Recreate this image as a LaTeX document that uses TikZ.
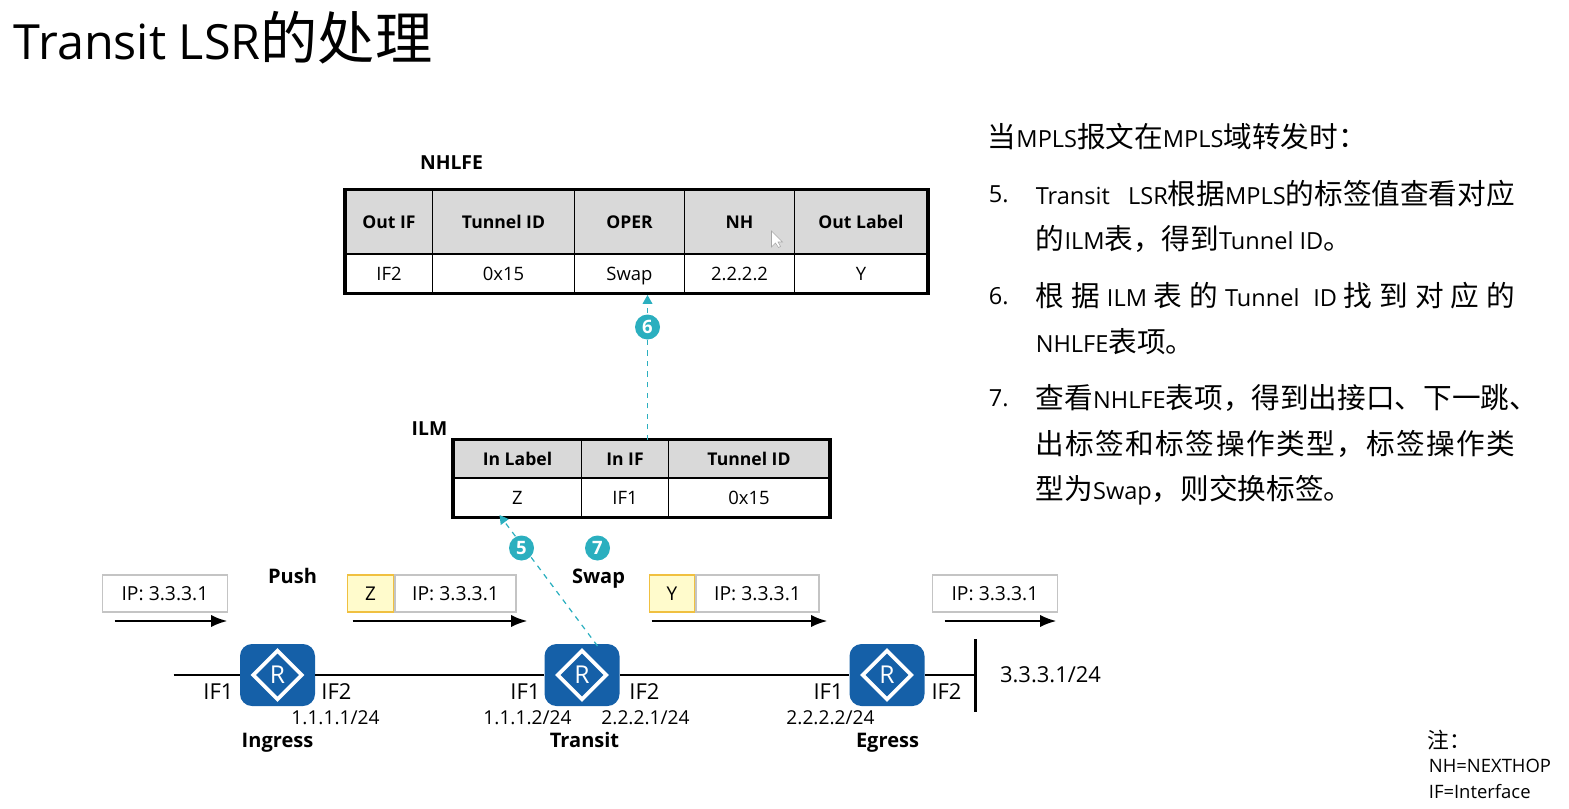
\documentclass[tikz,border=0pt]{standalone}
\usepackage{fontspec}
\setmainfont{Open Sans}
\newfontfamily\cjk[Scale=1.18]{Noto Sans CJK SC}
\newfontfamily\cjkbody[Scale=1.216]{Noto Sans CJK SC}
\newcommand{\zh}[1]{{\cjk #1}}
\newcommand{\zb}[1]{{\cjkbody #1}}
\usepackage{tikz}
\usetikzlibrary{arrows.meta,positioning,shapes.geometric}
\definecolor{headgray}{HTML}{D9D9D9}
\definecolor{boxgray}{HTML}{C4C4C4}
\definecolor{labelfill}{HTML}{FFFBCC}
\definecolor{labelline}{HTML}{F0C040}
\definecolor{routerblue}{HTML}{1560A8}
\definecolor{stepteal}{HTML}{2BAFBF}
\tikzset{
  headcell/.style={draw=black,line width=0.7pt,fill=headgray,inner sep=0pt,text height=7.2pt,text depth=0pt,font=\fontsize{10}{12}\selectfont\bfseries},
  bodycell/.style={draw=black,line width=0.7pt,inner sep=0pt,text height=7.6pt,text depth=0pt,font=\fontsize{10.5}{12}\selectfont},
  frameline/.style={line width=2pt},
  ipbox/.style={draw=boxgray,line width=0.9pt,fill=white,inner sep=0pt,minimum height=0.74cm,text height=7.8pt,text depth=0pt,font=\fontsize{11}{12}\selectfont},
  tagbox/.style={draw=labelline,line width=0.9pt,fill=labelfill,inner sep=0pt,minimum height=0.74cm,text height=7.8pt,text depth=0pt,font=\fontsize{10.8}{12}\selectfont},
  flow/.style={->,line width=1.4pt},
  link/.style={line width=1.4pt},
  router/.style={draw=none,fill=routerblue,rounded corners=0.24cm,minimum width=1.5cm,minimum height=1.24cm,inner sep=0pt},
  routermark/.style={diamond,draw=white,line width=2.1pt,text=white,minimum width=1cm,minimum height=1cm,inner sep=0pt,font=\fontsize{14}{14}\selectfont},
  small/.style={inner sep=0pt,text height=7.8pt,text depth=0pt,font=\fontsize{10.9}{12}\selectfont},
  iflabel/.style={inner sep=0pt,text height=8.9pt,text depth=0pt,font=\fontsize{12.5}{14}\selectfont},
  tag/.style={inner sep=0pt,text height=8.2pt,text depth=0pt,font=\fontsize{11.4}{13}\selectfont\bfseries},
  stepdot/.style={circle,fill=stepteal,text=white,minimum size=0.5cm,inner sep=0pt,font=\fontsize{10.5}{12}\selectfont\bfseries},
  stepflow/.style={dashed,stepteal,line width=0.7pt,-{Triangle[length=5pt,width=5.5pt]}},
  para/.style={anchor=west,inner sep=0pt,font=\fontsize{13.4}{16}\selectfont},
  note/.style={anchor=west,inner sep=0pt,font=\fontsize{10.5}{13}\selectfont}
}
\begin{document}
\begin{tikzpicture}[>=Latex]
\useasboundingbox (-0.01,0.02) rectangle (31.37,-16.14);

\node[anchor=west,inner sep=0pt,font=\fontsize{27.6}{32}\selectfont] (title) at (0.26,-0.74) {Transit LSR\zh{的处理}};

% NHLFE table
\node[tag,font=\fontsize{11}{13}\selectfont\bfseries] (nhName) at (9.02,-3.22) {NHLFE};
\node[headcell,minimum width=1.74cm,minimum height=1.28cm] (nhOutIf) at (7.77,-4.42) {Out IF};
\node[headcell,minimum width=2.84cm,minimum height=1.28cm] (nhTunnel) at (10.06,-4.42) {Tunnel ID};
\node[headcell,minimum width=2.2cm,minimum height=1.28cm] (nhOper) at (12.58,-4.42) {OPER};
\node[headcell,minimum width=2.2cm,minimum height=1.28cm] (nhHop) at (14.78,-4.42) {NH};
\node[headcell,minimum width=2.66cm,minimum height=1.28cm] (nhLabel) at (17.21,-4.42) {Out Label};
\node[bodycell,minimum width=1.74cm,minimum height=0.78cm] (nhOutIfV) at (7.77,-5.45) {IF2};
\node[bodycell,minimum width=2.84cm,minimum height=0.78cm] (nhTunnelV) at (10.06,-5.45) {0x15};
\node[bodycell,minimum width=2.2cm,minimum height=0.78cm] (nhOperV) at (12.58,-5.45) {Swap};
\node[bodycell,minimum width=2.2cm,minimum height=0.78cm] (nhHopV) at (14.78,-5.45) {2.2.2.2};
\node[bodycell,minimum width=2.66cm,minimum height=0.78cm] (nhLabelV) at (17.21,-5.45) {Y};
\draw[frameline] (nhOutIf.north west) rectangle (nhLabelV.south east);

% mouse pointer
\draw[gray!70,fill=white,line width=0.3pt] (15.42,-4.6) -- (15.42,-4.92) -- (15.5,-4.84) -- (15.56,-4.93) -- (15.6,-4.91) -- (15.55,-4.82) -- (15.64,-4.82) -- cycle;

% ILM table
\node[tag,font=\fontsize{11}{13}\selectfont\bfseries] (ilmName) at (8.58,-8.54) {ILM};
\node[headcell,minimum width=2.56cm,minimum height=0.76cm] (ilmLabel) at (10.34,-9.16) {In Label};
\node[headcell,minimum width=1.74cm,minimum height=0.76cm] (ilmIf) at (12.49,-9.16) {In IF};
\node[headcell,minimum width=3.22cm,minimum height=0.76cm] (ilmTunnel) at (14.97,-9.16) {Tunnel ID};
\node[bodycell,minimum width=2.56cm,minimum height=0.78cm] (ilmLabelV) at (10.34,-9.93) {Z};
\node[bodycell,minimum width=1.74cm,minimum height=0.78cm] (ilmIfV) at (12.49,-9.93) {IF1};
\node[bodycell,minimum width=3.22cm,minimum height=0.78cm] (ilmTunnelV) at (14.97,-9.93) {0x15};
\draw[frameline] (ilmLabel.north west) rectangle (ilmTunnelV.south east);

% routers
\node[router] (ingress) at (5.54,-13.48) {};
\node[router] (transit) at (11.63,-13.48) {};
\node[router] (egress) at (17.73,-13.48) {};
\node[routermark] (ingressR) at (ingress) {R};
\node[routermark] (transitR) at (transit) {R};
\node[routermark] (egressR) at (egress) {R};

\coordinate (lineIn) at (3.46,-13.48);
\coordinate (stubTop) at (19.5,-12.76);
\coordinate (stubBot) at (19.5,-14.22);
\draw[link] (lineIn) -- (ingress.west);
\draw[link] (ingress.east) -- (transit.west);
\draw[link] (transit.east) -- (egress.west);
\draw[link] (egress.east) -- (stubTop |- egress);
\draw[link] (stubTop) -- (stubBot);

% packets
\node[ipbox,minimum width=2.5cm] (pkA) at (3.29,-11.85) {IP: 3.3.3.1};
\node[tagbox,minimum width=0.92cm] (tagZ) at (7.4,-11.85) {Z};
\node[ipbox,minimum width=2.42cm,right=0cm of tagZ] (pkB) {IP: 3.3.3.1};
\node[tagbox,minimum width=0.9cm] (tagY) at (13.43,-11.85) {Y};
\node[ipbox,minimum width=2.46cm,right=0cm of tagY] (pkC) {IP: 3.3.3.1};
\node[ipbox,minimum width=2.5cm] (pkD) at (19.89,-11.85) {IP: 3.3.3.1};

\coordinate (fA) at (2.28,-12.4);
\coordinate (tA) at (4.54,-12.4);
\coordinate (fB) at (7.04,-12.4);
\coordinate (tB) at (10.54,-12.4);
\coordinate (fC) at (13.02,-12.4);
\coordinate (tC) at (16.54,-12.4);
\coordinate (fD) at (18.88,-12.4);
\coordinate (tD) at (21.12,-12.4);
\draw[flow] (fA) -- (tA);
\draw[flow] (fB) -- (tB);
\draw[flow] (fC) -- (tC);
\draw[flow] (fD) -- (tD);

% steps
\coordinate (sixFrom) at (12.94,-8.78);
\coordinate (sixTo) at (12.94,-5.88);
\coordinate (fiveFrom) at (11.94,-12.9);
\coordinate (fiveTo) at (9.98,-10.28);
\draw[stepflow] (sixFrom) -- (sixTo);
\draw[stepflow] (fiveFrom) -- (fiveTo);
\node[stepdot] (stepSix) at (12.94,-6.52) {6};
\node[stepdot] (stepFive) at (10.42,-10.94) {5};
\node[stepdot] (stepSeven) at (11.94,-10.94) {7};

\node[tag] (push) at (5.84,-11.5) {Push};
\node[tag] (swap) at (11.96,-11.5) {Swap};

% interface labels
\node[iflabel] (inA) at (4.36,-13.82) {IF1};
\node[iflabel] (outA) at (6.72,-13.82) {IF2};
\node[small] (ipA) at (6.7,-14.34) {1.1.1.1/24};
\node[tag] (nameA) at (5.54,-14.78) {Ingress};
\node[iflabel] (inB) at (10.5,-13.82) {IF1};
\node[iflabel] (outB) at (12.88,-13.82) {IF2};
\node[small] (ipB) at (10.54,-14.34) {1.1.1.2/24};
\node[small] (ipC) at (12.9,-14.34) {2.2.2.1/24};
\node[tag] (nameB) at (11.68,-14.78) {Transit};
\node[iflabel] (inC) at (16.56,-13.82) {IF1};
\node[iflabel] (outC) at (18.92,-13.82) {IF2};
\node[small] (ipD) at (16.6,-14.34) {2.2.2.2/24};
\node[tag] (nameC) at (17.74,-14.78) {Egress};
\node[iflabel] (netD) at (21,-13.48) {3.3.3.1/24};

% right text
\node[para] (lineA) at (19.74,-2.72) {\zb{当}MPLS\zb{报文在}MPLS\zb{域转发时：}};
\node[para] (numFive) at (19.76,-3.86) {5.};
\node[para] (lineB) at (20.7,-3.86) {\makebox[9.58cm][s]{Transit\hfil LSR\zb{根据}MPLS\zb{的标签值查看对应}}};
\node[para] (lineC) at (20.7,-4.76) {\zb{的}ILM\zb{表，得到}Tunnel ID\zb{。}};
\node[para] (numSix) at (19.76,-5.9) {6.};
\node[para] (lineD) at (20.7,-5.9) {\makebox[9.58cm][s]{\zb{根}\hfil\zb{据}\hfil ILM\hfil\zb{表}\hfil\zb{的}\hfil Tunnel\hfil\hfil ID\hfil\zb{找}\hfil\zb{到}\hfil\zb{对}\hfil\zb{应}\hfil\zb{的}}};
\node[para] (lineE) at (20.7,-6.82) {NHLFE\zb{表项。}};
\node[para] (numSeven) at (19.76,-7.94) {7.};
\node[para] (lineF) at (20.7,-7.94) {\zb{查看}NHLFE\zb{表项，得到出接口、下一跳、}};
\node[para] (lineG) at (20.7,-8.86) {\makebox[9.58cm][s]{\zb{出}\hfil\zb{标}\hfil\zb{签}\hfil\zb{和}\hfil\zb{标}\hfil\zb{签}\hfil\zb{操}\hfil\zb{作}\hfil\zb{类}\hfil\zb{型}\hfil\zb{，}\hfil\zb{标}\hfil\zb{签}\hfil\zb{操}\hfil\zb{作}\hfil\zb{类}}};
\node[para] (lineH) at (20.7,-9.78) {\zb{型为}Swap\zb{，则交换标签。}};

% note
\node[note] (noteA) at (28.54,-14.78) {\zh{注：}};
\node[note] (noteB) at (28.56,-15.3) {NH=NEXTHOP};
\node[note] (noteC) at (28.56,-15.82) {IF=Interface};
\end{tikzpicture}
\end{document}
